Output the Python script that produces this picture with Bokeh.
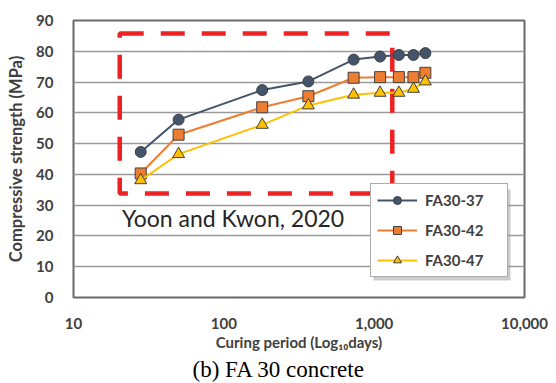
from bokeh.plotting import figure
from bokeh.models import (Range1d, FixedTicker, NumeralTickFormatter, Legend, LegendItem,
                          Label, Title, BoxAnnotation)
from bokeh.embed import file_html
from bokeh.resources import INLINE

# ---- data ----
days = [28, 50, 180, 365, 730, 1095, 1460, 1825, 2190]
fa30_37 = [47.3, 57.8, 67.4, 70.2, 77.3, 78.3, 78.8, 78.8, 79.4]
fa30_42 = [40.3, 52.9, 61.8, 65.4, 71.4, 71.6, 71.6, 71.6, 73.0]
fa30_47 = [38.1, 46.6, 56.1, 62.4, 65.9, 66.5, 66.5, 67.8, 70.2]
series_names = ["FA30-37", "FA30-42", "FA30-47"]
x_ticks = [10, 100, 1000, 10000]
y_ticks = [0, 10, 20, 30, 40, 50, 60, 70, 80, 90]
# highlighted region (days, MPa)
box_left, box_right, box_bottom, box_top = 20.3, 1320, 33.8, 85.8
annotation_text = "Yoon and Kwon, 2020"
caption_text = "(b) FA 30 concrete"

FONT = "Lato"
TXT = "#404040"

p = figure(width=556, height=383, x_axis_type="log",
           x_range=Range1d(10, 10000), y_range=Range1d(0, 90),
           output_backend="svg", toolbar_location=None,
           min_border_left=73, min_border_right=32,
           min_border_top=20, min_border_bottom=86)
p.background_fill_color = "white"
p.border_fill_color = "white"
p.outline_line_color = "#6a6a6a"
p.outline_line_width = 2

p.xaxis.ticker = FixedTicker(ticks=x_ticks)
p.xaxis.formatter = NumeralTickFormatter(format="0,0")
p.yaxis.ticker = FixedTicker(ticks=y_ticks)
for ax in (p.xaxis, p.yaxis):
    ax.axis_line_color = None
    ax.major_tick_line_color = None
    ax.minor_tick_line_color = None
    ax.major_label_text_font = FONT
    ax.major_label_text_font_style = "bold"
    ax.major_label_text_font_size = "15px"
    ax.major_label_text_color = TXT
    ax.axis_label_text_font = FONT
    ax.axis_label_text_font_style = "bold"
    ax.axis_label_text_color = TXT
p.xaxis.axis_label_text_font_size = "15px"
p.yaxis.axis_label_text_font_size = "16.5px"
p.xaxis.major_label_standoff = 14
p.yaxis.major_label_standoff = 14
p.xaxis.axis_label = "Curing period (Log\u2081\u2080days)"
p.yaxis.axis_label = "Compressive strength (MPa)"
p.xaxis.axis_label_standoff = 1
p.yaxis.axis_label_standoff = 7

p.xgrid.grid_line_color = None
p.ygrid.grid_line_color = "#9a9a9a"
p.ygrid.grid_line_width = 1.3

# red dashed box
p.quad(left=[box_left], right=[box_right], bottom=[box_bottom], top=[box_top],
       fill_alpha=0, line_color="#ee2222", line_width=4.5, line_dash="24 17")

styles = [
    ("#44546a", "circle", 11, fa30_37),
    ("#ed7d31", "square", 11, fa30_42),
    ("#ffc000", "triangle", 12, fa30_47),
]
items = []
for name, (col, mk, sz, ys) in zip(series_names, styles):
    l = p.line(days, ys, line_color=col, line_width=2)
    s = p.scatter(days, ys, marker=mk, size=sz, fill_color=col,
                  line_color="#404040", line_width=1)
    items.append(LegendItem(label=name, renderers=[l, s]))

# soft shadow behind the legend box
shadow = BoxAnnotation(left=373, right=510, top=189, bottom=280,
                       left_units="canvas", right_units="canvas",
                       top_units="canvas", bottom_units="canvas",
                       fill_color="#9a9a9a", fill_alpha=0.5, line_color=None)
p.add_layout(shadow)

legend = Legend(items=items, location=(297, 20), padding=6, spacing=10,
                label_height=20, glyph_height=20, glyph_width=40,
                label_standoff=8, label_width=76,
                label_text_font=FONT, label_text_font_style="bold",
                label_text_font_size="15px", label_text_color=TXT,
                border_line_color="#595959", border_line_width=1.5,
                background_fill_color="white", background_fill_alpha=1)
p.add_layout(legend, "center")

p.add_layout(Label(x=21, y=25.7, text=annotation_text, text_font=FONT,
                   text_font_size="23px", text_color="#262626",
                   text_baseline="middle", text_align="left"))

caption = Title(text=caption_text, align="left", offset=119,
                text_font="Liberation Serif", text_font_size="23px",
                text_font_style="normal", text_color="black", standoff=3)
p.add_layout(caption, "below")

open("out.html", "w").write(file_html(p, INLINE))
